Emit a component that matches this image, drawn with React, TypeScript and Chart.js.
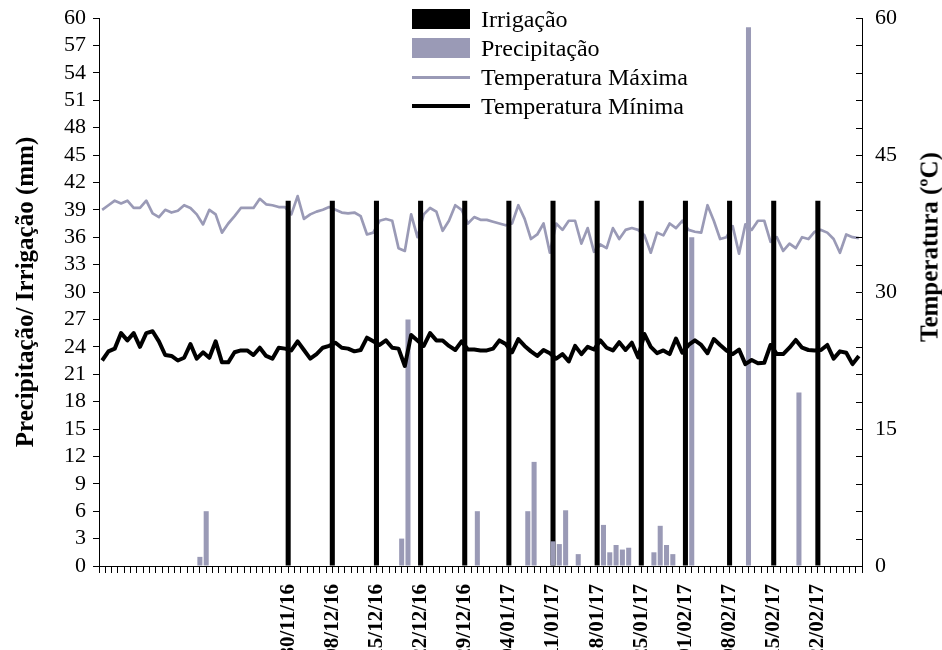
import React, { useEffect, useRef } from "react";
import { Chart, registerables } from "chart.js";

Chart.register(...registerables);

const FONT = "'Liberation Serif', 'Times New Roman', Times, serif";
const GRAY = "#9a9ab6";

// Date tick labels (every 7th bar slot starting at slot 30)
const dateLabels = [
  "30/11/16", "08/12/16", "15/12/16", "22/12/16", "29/12/16", "04/01/17", "11/01/17",
  "18/01/17", "25/01/17", "01/02/17", "08/02/17", "15/02/17", "22/02/17",
];
const firstLabelSlot = 30;
const labelStep = 7;
const barSlotCount = 122;

// Irrigation (mm) – slot index and depth
const irrigationSlots = [30, 37, 44, 51, 58, 65, 72, 79, 86, 93, 100, 107, 114];
const irrigationMm = [40, 40, 40, 40, 40, 40, 40, 40, 40, 40, 40, 40, 40];

// Precipitation (mm) – slot index and depth
const precipSlots = [16, 17, 48, 49, 60, 68, 69, 72, 73, 74, 76, 80, 81, 82, 83, 84, 88, 89, 90, 91, 94, 103, 111];
const precipMm = [1.0, 6.0, 3.0, 27.0, 6.0, 6.0, 11.4, 2.7, 2.4, 6.1, 1.3, 4.5, 1.5, 2.3, 1.8, 2.0, 1.5, 4.4, 2.3, 1.3, 36.0, 59.0, 19.0];

// Daily temperatures (°C)
const tMax = [
  39.0, 39.5, 40.0, 39.7, 40.0, 39.2, 39.2, 40.0, 38.6, 38.2, 39.0, 38.7, 38.9, 39.5, 39.2, 38.5, 37.4, 39.0, 38.5, 36.5,
  37.5, 38.3, 39.2, 39.2, 39.2, 40.2, 39.6, 39.5, 39.3, 39.3, 38.5,
  40.5, 38.0, 38.5, 38.8, 39.0, 39.3, 39.0, 38.7, 38.6, 38.7, 38.3, 36.3, 36.5, 37.8, 38.0, 37.8, 34.8, 34.5, 38.5, 36.0,
  38.5, 39.2, 38.8, 36.7, 37.8, 39.5, 39.0, 37.5, 38.2, 37.9,
  37.9, 37.7, 37.5, 37.3, 37.5, 39.5, 38.0, 35.8, 36.3, 37.5, 34.3, 37.5, 36.8, 37.8, 37.8, 35.3, 37.0, 34.4, 35.2, 34.8,
  37.0, 35.8, 36.8, 37.0, 36.8, 36.2, 34.3, 36.5, 36.2, 37.5,
  37.0, 37.8, 36.8, 36.6, 36.5, 39.5, 37.8, 35.8, 36.0, 37.2, 34.2, 37.4, 36.8, 37.8, 37.8, 35.5, 36.0, 34.5, 35.3, 34.8,
  36.0, 35.8, 36.6, 36.8, 36.5, 35.8, 34.3, 36.3, 36.0, 35.9,
];
const tMin = [
  22.5, 23.5, 23.8, 25.5, 24.7, 25.5, 24.0, 25.5, 25.7, 24.6, 23.1, 23.0, 22.5, 22.8, 24.3, 22.7, 23.4, 22.8, 24.6, 22.3,
  22.3, 23.4, 23.6, 23.6, 23.1, 23.9, 23.0, 22.7, 23.9, 23.8, 23.6,
  24.6, 23.65, 22.7, 23.2, 23.9, 24.1, 24.45, 23.9, 23.8, 23.5, 23.65, 25.0, 24.6, 24.2, 24.7, 23.9, 23.8, 21.9, 25.3, 24.7,
  24.1, 25.5, 24.7, 24.7, 24.1, 23.65, 24.6, 23.7, 23.7, 23.6,
  23.6, 23.8, 24.7, 24.3, 23.4, 24.85, 24.1, 23.5, 23.0, 23.65, 23.3, 22.7, 23.2, 22.4, 24.1, 23.2, 24.0, 23.7, 24.7, 23.9,
  23.6, 24.5, 23.65, 24.45, 22.85, 25.4, 24.0, 23.3, 23.6, 23.2,
  24.9, 23.35, 24.2, 24.7, 24.2, 23.3, 24.85, 24.2, 23.6, 23.2, 23.7, 22.1, 22.55, 22.2, 22.25, 24.2, 23.2, 23.2, 23.9, 24.75,
  23.9, 23.65, 23.6, 23.65, 24.2, 22.7, 23.5, 23.35, 22.1, 23.0,
];

const legendItems = [
  { label: "Irrigação", kind: "box", color: "#000000", width: 0 },
  { label: "Precipitação", kind: "box", color: GRAY, width: 0 },
  { label: "Temperatura Máxima", kind: "line", color: GRAY, width: 3 },
  { label: "Temperatura Mínima", kind: "line", color: "#000000", width: 4 },
];

function slotSeries(slots: number[], values: number[]) {
  const arr: (number | null)[] = new Array(barSlotCount).fill(null);
  slots.forEach((s, i) => (arr[s] = values[i]));
  return arr;
}

// Draws the secondary axis' tick marks on the inner side of the axis line
const innerTicksPlugin = {
  id: "innerTicks",
  afterDraw(chart: any) {
    const s = chart.scales.y1;
    if (!s) return;
    const ctx = chart.ctx;
    ctx.save();
    ctx.strokeStyle = "#000";
    ctx.lineWidth = 1;
    ctx.beginPath();
    s.ticks.forEach((t: any) => {
      const y = Math.round(s.getPixelForValue(t.value)) + 0.5;
      ctx.moveTo(s.left - 6, y);
      ctx.lineTo(s.left, y);
    });
    ctx.stroke();
    ctx.restore();
  },
};

export default function App() {
  const ref = useRef<HTMLCanvasElement | null>(null);

  useEffect(() => {
    if (!ref.current) return;
    const barLabels: string[] = new Array(barSlotCount).fill("");
    dateLabels.forEach((l, i) => (barLabels[firstLabelSlot + i * labelStep] = l));
    const dayLabels = tMax.map((_, i) => "d" + (i + 1));

    const chart = new Chart(ref.current, {
      type: "bar",
      plugins: [innerTicksPlugin],
      data: {
        labels: dayLabels,
        datasets: [
          {
            type: "line",
            label: "Temperatura Mínima",
            data: tMin,
            xAxisID: "x",
            yAxisID: "y1",
            borderColor: "#000000",
            borderWidth: 4,
            pointRadius: 0,
            tension: 0,
            borderJoinStyle: "round",
            order: 0,
          } as any,
          {
            type: "bar",
            label: "Precipitação",
            data: slotSeries(precipSlots, precipMm),
            xAxisID: "x2",
            yAxisID: "y",
            backgroundColor: GRAY,
            grouped: false,
            barPercentage: 0.8,
            categoryPercentage: 1,
            order: 3,
          } as any,
          {
            type: "bar",
            label: "Irrigação",
            data: slotSeries(irrigationSlots, irrigationMm),
            xAxisID: "x2",
            yAxisID: "y",
            backgroundColor: "#000000",
            grouped: false,
            barPercentage: 0.8,
            categoryPercentage: 1,
            order: 4,
          } as any,
          {
            type: "line",
            label: "Temperatura Máxima",
            data: tMax,
            xAxisID: "x",
            yAxisID: "y1",
            borderColor: GRAY,
            borderWidth: 2.7,
            pointRadius: 0,
            tension: 0,
            borderJoinStyle: "round",
            order: 5,
          } as any,
        ],
      },
      options: {
        animation: false,
        responsive: false,
        maintainAspectRatio: false,
        layout: { padding: { top: 18, left: 0, right: 0, bottom: 0 } },
        plugins: { legend: { display: false }, tooltip: { enabled: false } },
        scales: {
          x: {
            type: "category",
            labels: dayLabels,
            offset: true,
            display: false,
          },
          x2: {
            type: "category",
            labels: barLabels,
            offset: false,
            position: "bottom",
            grid: {
              display: true,
              drawOnChartArea: false,
              drawTicks: true,
              tickLength: 7,
              color: "#000000",
              offset: false,
            },
            border: { display: true, color: "#000000", width: 1 },
            ticks: {
              autoSkip: false,
              maxRotation: 90,
              minRotation: 90,
              padding: 11,
              color: "#000000",
              font: { family: FONT, size: 21, weight: "bold" },
            },
            afterFit: (s: any) => {
              s.height = 84;
            },
          },
          y: {
            position: "left",
            min: 0,
            max: 60,
            ticks: {
              stepSize: 3,
              autoSkip: false,
              color: "#000000",
              padding: 7,
              font: { family: FONT, size: 22, lineHeight: 1 },
            },
            grid: { drawOnChartArea: false, drawTicks: true, tickLength: 6, color: "#000000" },
            border: { display: true, color: "#000000", width: 1 },
            title: {
              display: true,
              text: "Precipitação/ Irrigação (mm)",
              color: "#000000",
              font: { family: FONT, size: 25, weight: "bold", lineHeight: 1 },
              padding: { top: 14, bottom: 0 },
            },
            afterFit: (s: any) => {
              s.width = 99;
            },
          },
          y1: {
            position: "right",
            min: 0,
            max: 60,
            ticks: {
              stepSize: 3,
              autoSkip: false,
              color: "#000000",
              padding: 7,
              font: { family: FONT, size: 22, lineHeight: 1 },
              callback: (v: any) => (Number(v) % 15 === 0 ? String(v) : ""),
            },
            grid: { drawOnChartArea: false, drawTicks: true, tickLength: 6, color: "rgba(0,0,0,0)" },
            border: { display: true, color: "#000000", width: 1 },
            afterFit: (s: any) => {
              s.width = 80;
            },
          },
        },
      },
    });
    return () => chart.destroy();
  }, []);

  return (
    <div style={{ position: "absolute", left: 0, top: 0, width: 942, height: 650, background: "#fff", overflow: "hidden" }}>
      <canvas ref={ref} width={942} height={650} style={{ position: "absolute", left: 0, top: 0, width: 942, height: 650 }} />
      <div
        style={{
          position: "absolute",
          left: 929,
          top: 247,
          transform: "translate(-50%, -50%) rotate(-90deg)",
          whiteSpace: "nowrap",
          fontFamily: FONT,
          fontWeight: "bold",
          fontSize: 25,
          lineHeight: "25px",
          color: "#000",
        }}
      >
        Temperatura (ºC)
      </div>
      {legendItems.map((it, i) => (
        <div
          key={it.label}
          style={{ position: "absolute", left: 412, top: 6 + i * 29, height: 26, display: "flex", alignItems: "center" }}
        >
          <div style={{ width: 58, height: 26, display: "flex", alignItems: "center" }}>
            {it.kind === "box" ? (
              <div style={{ width: 58, height: 20, background: it.color }} />
            ) : (
              <div style={{ width: 58, height: it.width, background: it.color }} />
            )}
          </div>
          <span
            style={{
              marginLeft: 11,
              fontFamily: FONT,
              fontSize: 24,
              lineHeight: "26px",
              color: "#000",
              whiteSpace: "nowrap",
            }}
          >
            {it.label}
          </span>
        </div>
      ))}
    </div>
  );
}
